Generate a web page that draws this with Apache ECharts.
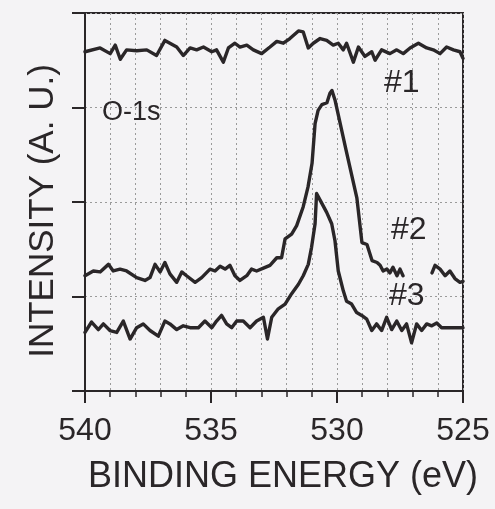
<!DOCTYPE html>
<html>
<head>
<meta charset="utf-8">
<script src="https://cdn.jsdelivr.net/npm/echarts@6/dist/echarts.min.js"></script>
<style>
html,body{margin:0;padding:0;background:#f4f3f5;}
#chart{width:495px;height:509px;}
</style>
</head>
<body>
<div id="chart"></div>
<script>
// Binding energy (eV) and intensity (arb. units) for the three O-1s spectra
var energy1 = [540.0,539.4,539.0,538.8,538.6,538.35,537.95,537.55,537.16,536.83,536.63,536.36,536.1,535.83,535.57,535.3,534.97,534.78,534.51,534.31,534.05,533.85,533.58,533.32,532.99,532.66,532.39,532.13,531.87,531.53,531.34,531.14,530.94,530.67,530.41,530.15,529.95,529.75,529.62,529.35,529.15,528.89,528.62,528.49,528.23,527.9,527.63,527.37,527.1,526.77,526.44,526.18,525.91,525.65,525.38,525.12,525.0];
var intensity1 = [3.59,3.63,3.57,3.66,3.51,3.61,3.6,3.61,3.55,3.71,3.68,3.64,3.55,3.63,3.61,3.64,3.59,3.61,3.48,3.63,3.68,3.64,3.66,3.61,3.57,3.64,3.7,3.68,3.73,3.81,3.8,3.63,3.68,3.73,3.71,3.66,3.68,3.61,3.68,3.48,3.64,3.54,3.59,3.5,3.61,3.57,3.61,3.57,3.63,3.68,3.63,3.61,3.57,3.64,3.61,3.59,3.52];

var energy2 = [540.0,539.67,539.4,539.07,538.88,538.61,538.35,537.95,537.62,537.42,537.22,537.02,536.83,536.63,536.36,536.16,535.97,535.63,535.37,535.04,534.84,534.64,534.44,534.25,534.05,533.85,533.58,533.39,533.19,532.92,532.66,532.39,532.2,532.06,531.8,531.6,531.34,531.15,530.99,530.87,530.75,530.6,530.4,530.28,530.2,530.08,529.64,529.21,529.01,528.81,528.61,528.41,528.29,528.17,528.02,527.9,527.78,527.62,527.5,527.38,526.8,526.23,526.11,525.91,525.71,525.52,525.32,525.12,525.0];
var intensity2 = [1.22,1.27,1.26,1.34,1.27,1.29,1.27,1.2,1.17,1.2,1.34,1.26,1.36,1.24,1.15,1.26,1.22,1.15,1.2,1.29,1.27,1.32,1.29,1.33,1.22,1.17,1.22,1.29,1.27,1.3,1.33,1.41,1.41,1.61,1.66,1.75,1.95,2.16,2.41,2.83,2.97,3.03,3.05,3.15,3.18,3.08,2.55,2.04,1.57,1.55,1.38,1.36,1.33,1.27,1.29,1.25,1.31,1.22,1.29,1.22,null,1.25,1.33,1.29,1.22,1.27,1.19,1.15,1.16];

var energy3 = [540.0,539.74,539.47,539.27,539.01,538.74,538.48,538.21,537.95,537.69,537.42,537.09,536.83,536.63,536.36,536.1,535.83,535.5,535.24,534.97,534.78,534.58,534.38,534.18,533.98,533.72,533.45,533.19,532.92,532.76,532.59,532.33,532.06,531.8,531.53,531.34,531.14,531.01,530.87,530.81,530.67,530.41,530.21,530.08,529.95,529.75,529.62,529.42,529.22,529.02,528.82,528.62,528.43,528.23,528.03,527.83,527.63,527.43,527.24,527.04,526.84,526.64,526.44,526.24,526.04,525.85,525.52,525.25,525.0];
var intensity3 = [0.62,0.73,0.65,0.71,0.64,0.62,0.74,0.55,0.67,0.71,0.64,0.58,0.74,0.71,0.65,0.69,0.67,0.67,0.74,0.67,0.74,0.8,0.71,0.67,0.74,0.74,0.67,0.74,0.78,0.55,0.78,0.87,0.92,1.03,1.13,1.22,1.34,1.52,1.77,2.09,2.02,1.89,1.77,1.59,1.27,1.06,0.95,0.92,0.83,0.8,0.76,0.64,0.71,0.64,0.78,0.65,0.74,0.64,0.71,0.51,0.71,0.64,0.71,0.69,0.72,0.67,0.67,0.67,0.67];

var xTicks = [540, 535, 530, 525];
var seriesLabels = ['#1', '#2', '#3'];
var peakLabel = 'O-1s';
var xTitle = 'BINDING ENERGY (eV)';
var yTitle = 'INTENSITY (A. U.)';

function pairs(e, v) {
  return e.map(function (x, i) { return [x, v[i] === null ? '-' : v[i]]; });
}

var INK = '#2a2628';
var FONT = '"Liberation Sans", Arial, sans-serif';
var chart = echarts.init(document.getElementById('chart'), null, {renderer: 'canvas'});

var lineStyle = {color: INK, width: 3.4, join: 'round', cap: 'round'};
function mkSeries(name, e, v) {
  return {
    name: name, type: 'line', data: pairs(e, v),
    showSymbol: false, symbol: 'none', connectNulls: false,
    lineStyle: lineStyle, animation: false, z: 5
  };
}

chart.setOption({
  backgroundColor: '#f4f3f5',
  animation: false,
  grid: {left: 85, right: 32, top: 13, bottom: 118, show: true, borderColor: INK, borderWidth: 2, backgroundColor: 'transparent'},
  xAxis: {
    type: 'value', inverse: true, min: 525, max: 540, interval: 5,
    axisLine: {show: true, lineStyle: {color: INK, width: 2}},
    axisTick: {show: true, length: 12, lineStyle: {color: INK, width: 2}},
    minorTick: {show: true, splitNumber: 5, length: 6, lineStyle: {color: INK, width: 1.5}},
    splitLine: {show: true, lineStyle: {color: '#9a9a9a', type: [2, 3], width: 1}},
    minorSplitLine: {show: true, lineStyle: {color: '#9a9a9a', type: [2, 3], width: 1}},
    axisLabel: {
      fontFamily: FONT, fontSize: 32, color: INK, margin: 24,
      formatter: function (v) { return xTicks.indexOf(v) >= 0 ? String(v) : ''; }
    },
    name: xTitle, nameLocation: 'middle', nameGap: 68,
    nameTextStyle: {fontFamily: FONT, fontSize: 36, color: INK, padding: [0, 0, 0, 18]}
  },
  yAxis: {
    type: 'value', min: 0, max: 4, interval: 1,
    axisLine: {show: true, lineStyle: {color: INK, width: 2}},
    axisTick: {show: true, length: 13, lineStyle: {color: INK, width: 2}},
    splitLine: {show: true, lineStyle: {color: '#9a9a9a', type: [2, 3], width: 1}},
    axisLabel: {show: false},
    name: yTitle, nameLocation: 'middle', nameGap: 24,
    nameTextStyle: {fontFamily: FONT, fontSize: 35, color: INK, padding: [0, 18, 0, 0]}
  },
  series: [
    mkSeries(seriesLabels[0], energy1, intensity1),
    mkSeries(seriesLabels[1], energy2, intensity2),
    mkSeries(seriesLabels[2], energy3, intensity3)
  ],
  graphic: [
    {type: 'text', left: 102, top: 99, z: 10, style: {text: peakLabel, font: '27px ' + FONT, fill: INK}},
    {type: 'text', left: 384, top: 67, z: 10, style: {text: seriesLabels[0], font: '32px ' + FONT, fill: INK}},
    {type: 'text', left: 391, top: 214, z: 10, style: {text: seriesLabels[1], font: '32px ' + FONT, fill: INK}},
    {type: 'text', left: 389, top: 280, z: 10, style: {text: seriesLabels[2], font: '32px ' + FONT, fill: INK}}
  ]
});
</script>
</body>
</html>
